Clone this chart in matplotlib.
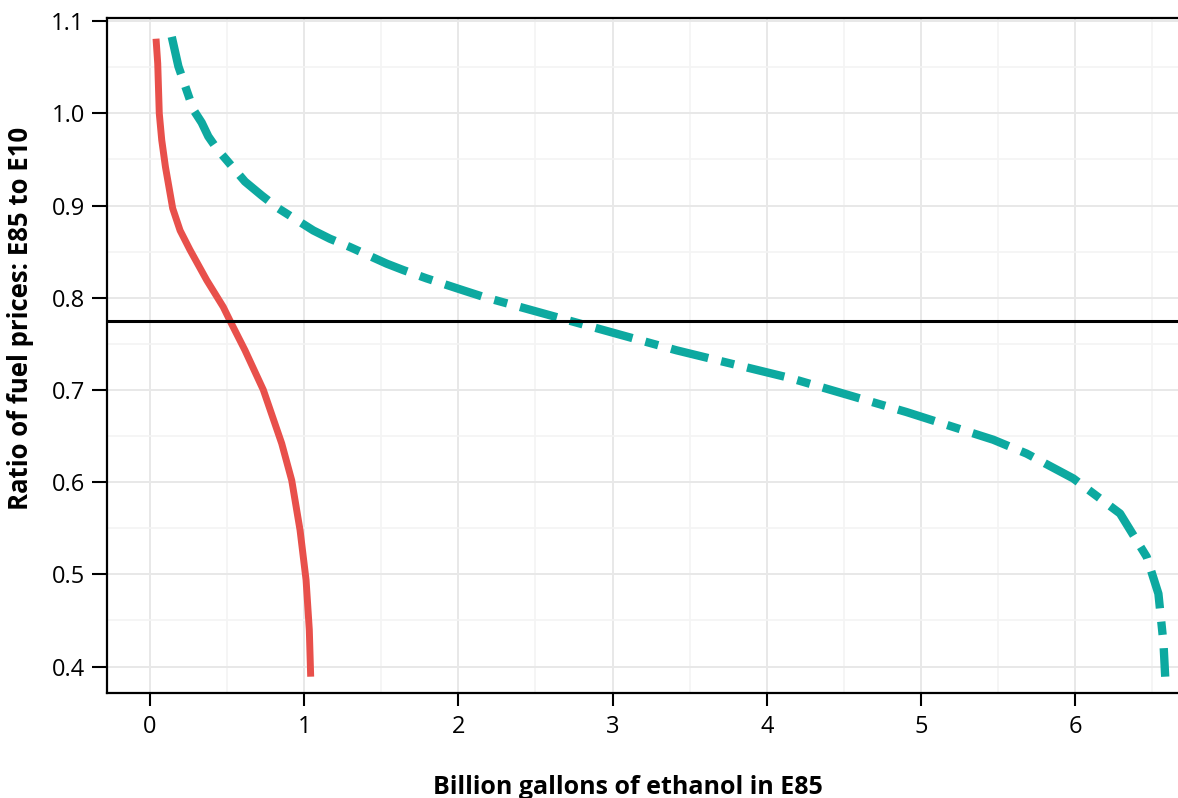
import matplotlib
matplotlib.use("Agg")
import matplotlib.pyplot as plt
from matplotlib.ticker import MultipleLocator

# curves
red_x = [0.039, 0.050, 0.060, 0.076, 0.100, 0.147, 0.195, 0.259, 0.368, 0.475,
         0.522, 0.616, 0.735, 0.854, 0.919, 0.973, 1.012, 1.033, 1.042]
red_y = [1.081, 1.054, 1.000, 0.971, 0.942, 0.897, 0.873, 0.852, 0.819, 0.790,
         0.774, 0.743, 0.700, 0.642, 0.602, 0.548, 0.494, 0.440, 0.389]

teal_x = [0.141, 0.184, 0.281, 0.335, 0.378, 0.432, 0.616, 0.724, 0.832, 1.059,
          1.167, 1.297, 1.535, 1.643, 1.794, 2.032, 2.162, 2.659, 3.415, 4.150,
          4.907, 5.469, 5.685, 5.988, 6.291, 6.464, 6.540, 6.573, 6.584]
teal_y = [1.083, 1.051, 1.004, 0.990, 0.975, 0.962, 0.926, 0.911, 0.897, 0.873,
          0.864, 0.855, 0.837, 0.830, 0.821, 0.808, 0.801, 0.778, 0.743, 0.713,
          0.676, 0.646, 0.631, 0.604, 0.566, 0.519, 0.479, 0.425, 0.389]

ref_ratio = 0.7747

x_ticks = [0, 1, 2, 3, 4, 5, 6]
y_ticks = [0.4, 0.5, 0.6, 0.7, 0.8, 0.9, 1.0, 1.1]

plt.rcParams['font.family'] = ['Open Sans', 'DejaVu Sans']

fig = plt.figure(figsize=(11.78, 7.98), dpi=100)
ax = fig.add_axes([107 / 1178, 1 - 693 / 798, 1 - 107 / 1178, (693 - 17.5) / 798])

ax.plot(red_x, red_y, color="#E8504B", lw=5.0, solid_capstyle="butt",
        solid_joinstyle="round")
ax.plot(teal_x, teal_y, color="#0DA9A0", lw=6.0,
        linestyle=(0, (4.6, 1.6, 1.6, 1.6)), dash_capstyle="butt",
        dash_joinstyle="round")
ax.axhline(ref_ratio, color="black", lw=2.2)

ax.set_xlim(-0.279, 6.667)
ax.set_ylim(0.3713, 1.104)
ax.set_xticks(x_ticks)
ax.set_yticks(y_ticks)
ax.set_yticklabels([f"{v:.1f}" for v in y_ticks])
ax.xaxis.set_minor_locator(MultipleLocator(0.5))
ax.yaxis.set_minor_locator(MultipleLocator(0.05))

ax.grid(True, which="major", color="#E8E8E8", lw=1.4)
ax.grid(True, which="minor", color="#F4F4F4", lw=1.2)
ax.set_axisbelow(True)

for s in ["left", "bottom", "top"]:
    ax.spines[s].set_linewidth(1.6)
    ax.spines[s].set_color("black")
ax.spines["right"].set_visible(False)

ax.tick_params(axis="x", which="major", length=9, width=1.5, pad=7, labelsize=17, direction="out")
ax.tick_params(axis="y", which="major", length=11, width=1.5, pad=5, labelsize=17, direction="out")
ax.tick_params(which="minor", length=0)

ax.set_xlabel("Billion gallons of ethanol in E85", fontsize=18, fontweight="bold",
              family=["Liberation Sans Narrow", "Open Sans", "DejaVu Sans"])
ax.xaxis.set_label_coords(0.486, -0.121)
ax.set_ylabel("Ratio of fuel prices: E85 to E10", fontsize=18.5, fontweight="bold")
ax.yaxis.set_label_coords(-0.068, 0.555)

fig.savefig("out.png", dpi=100)
